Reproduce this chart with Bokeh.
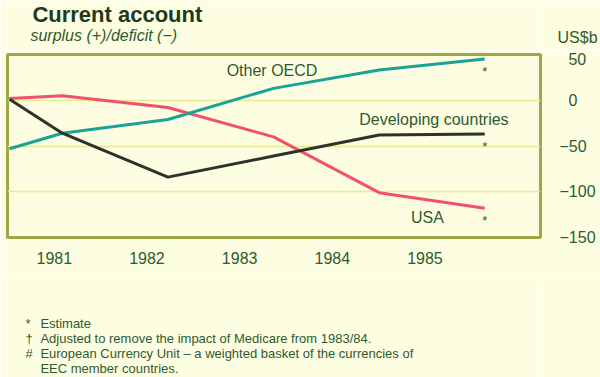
from bokeh.plotting import figure
from bokeh.layouts import column
from bokeh.models import Label, FixedTicker, Range1d, ColumnDataSource
from bokeh.core.properties import value
from bokeh.embed import file_html
from bokeh.resources import INLINE

# ---- data (US$ billion) ----
periods = [1980.5, 1981, 1982, 1983, 1984, 1985]
other_oecd = [-53, -36, -21, 13, 33, 45]
developing = [1, -36, -84, -61, -38, -37]
usa = [2, 5, -8, -40, -101, -118]
year_labels = ["1981", "1982", "1983", "1984", "1985"]
y_ticks = [-150, -100, -50, 0, 50]
y_tick_labels = {-150: "\u2212150", -100: "\u2212100", -50: "\u221250", 0: "\u20070", 50: "\u200750"}
unit_label = "US$b"
footnotes = [
    ("*", "Estimate"),
    ("\u2020", "Adjusted to remove the impact of Medicare from 1983/84."),
    ("#", "European Currency Unit \u2013 a weighted basket of the currencies of"),
    ("", "EEC member countries."),
]

# ---- layout ----
W = 600
HEAD_H, MAIN_H, FOOT_H = 50, 227, 100
FL, FR = 7, 542          # frame left/right (px)
FT_M, FB_M = 4, 187      # frame top/bottom inside the main figure (px)
X0, X1 = 1980.481, 1985.528
Y0, Y1 = -150, 50
SHIFT = {"22px": 7, "16px": 6, "13px": 4}   # label baseline correction

BG = "#FDFDE2"
FRAME = "#9AA845"
GRID = "#E6EC8C"
TXT = "#2F5A2F"
TITLE = "#1E3A1E"
FONT = "Liberation Sans"


def dx(px):
    return X0 + (px - FL) * (X1 - X0) / (FR - FL)


def dy(py):
    return Y1 - (py - FT_M) * (Y1 - Y0) / (FB_M - FT_M)


def style_axis(ax, standoff):
    ax.axis_line_color = None
    ax.major_tick_line_color = None
    ax.minor_tick_line_color = None
    ax.major_label_standoff = standoff
    ax.major_label_text_font = FONT
    ax.major_label_text_font_size = "16px"
    ax.major_label_text_color = TXT


def text_panel(h, right_axis):
    f = figure(width=W, height=h, output_backend="svg", toolbar_location=None, title=None,
               x_range=Range1d(FL, FR), y_range=Range1d(h, 0),
               min_border_left=FL, min_border_right=W - FR,
               min_border_top=0, min_border_bottom=0,
               x_axis_location=None, y_axis_location="right" if right_axis else None)
    f.outline_line_color = None
    f.background_fill_color = BG
    f.border_fill_color = BG
    f.grid.visible = False
    return f


def add_text(f, txt, px, py, size, style="normal", color=TXT):
    f.add_layout(Label(x=px, y=py - SHIFT[size], text=txt, text_font=FONT,
                       text_font_size=size, text_font_style=style, text_color=color,
                       text_baseline="alphabetic"))


# ---- header ----
head = text_panel(HEAD_H, True)
hax = head.yaxis[0]
hax.ticker = FixedTicker(ticks=[37])
hax.major_label_overrides = {37: unit_label}
style_axis(hax, 11)
add_text(head, "Current account", 32, 21, "22px", "bold", TITLE)
add_text(head, "surplus (+)/deficit (\u2212)", 30, 41, "16px", "italic")

# ---- main chart ----
p = figure(width=W, height=MAIN_H, output_backend="svg", toolbar_location=None, title=None,
           x_range=Range1d(X0, X1), y_range=Range1d(Y0, Y1),
           y_axis_location="right",
           min_border_left=FL, min_border_top=FT_M,
           min_border_bottom=MAIN_H - FB_M, min_border_right=W - FR)
p.background_fill_color = BG
p.border_fill_color = BG
p.outline_line_color = FRAME
p.outline_line_width = 3

p.xgrid.grid_line_color = None
p.ygrid.ticker = FixedTicker(ticks=[-100, -50, 0])
p.ygrid.grid_line_color = GRID
p.ygrid.grid_line_width = 1.5

ya = p.yaxis[0]
ya.ticker = FixedTicker(ticks=y_ticks)
ya.major_label_overrides = y_tick_labels
style_axis(ya, 13)

step = dx(147) - dx(54)
xticks = [dx(54) + i * step for i in range(len(year_labels))]
xa = p.xaxis[0]
xa.ticker = FixedTicker(ticks=xticks)
xa.major_label_overrides = {t: l for t, l in zip(xticks, year_labels)}
style_axis(xa, 8)

src = ColumnDataSource(dict(x=periods, oecd=other_oecd, dev=developing, usa=usa))
p.line("x", "usa", source=src, line_color="#F2506C", line_width=3)
p.line("x", "oecd", source=src, line_color="#1AA394", line_width=3)
p.line("x", "dev", source=src, line_color="#2B332B", line_width=3)

est = ColumnDataSource(dict(x=[periods[-1]] * 3, y=[other_oecd[-1], developing[-1], usa[-1]],
                            t=["*", "*", "*"]))
p.text("x", "y", text="t", source=est, text_align="center", text_baseline="middle",
       y_offset=12, text_font=value(FONT), text_font_size="13px", text_color=TXT)

for txt, px, py in [("Other OECD", 227, 76 - 50), ("Developing countries", 360, 125 - 50),
                    ("USA", 412, 223 - 50)]:
    p.add_layout(Label(x=dx(px), y=dy(py - SHIFT["16px"]), text=txt, text_font=FONT,
                       text_font_size="16px", text_color=TXT, text_baseline="alphabetic"))

# ---- footer ----
foot = text_panel(FOOT_H, False)
for i, (sym, txt) in enumerate(footnotes):
    base = 50 + 15 * i
    if sym:
        add_text(foot, sym, 25, base, "13px")
    add_text(foot, txt, 40, base, "13px")

layout = column(head, p, foot, spacing=0)
open("out.html", "w").write(file_html(layout, INLINE))
